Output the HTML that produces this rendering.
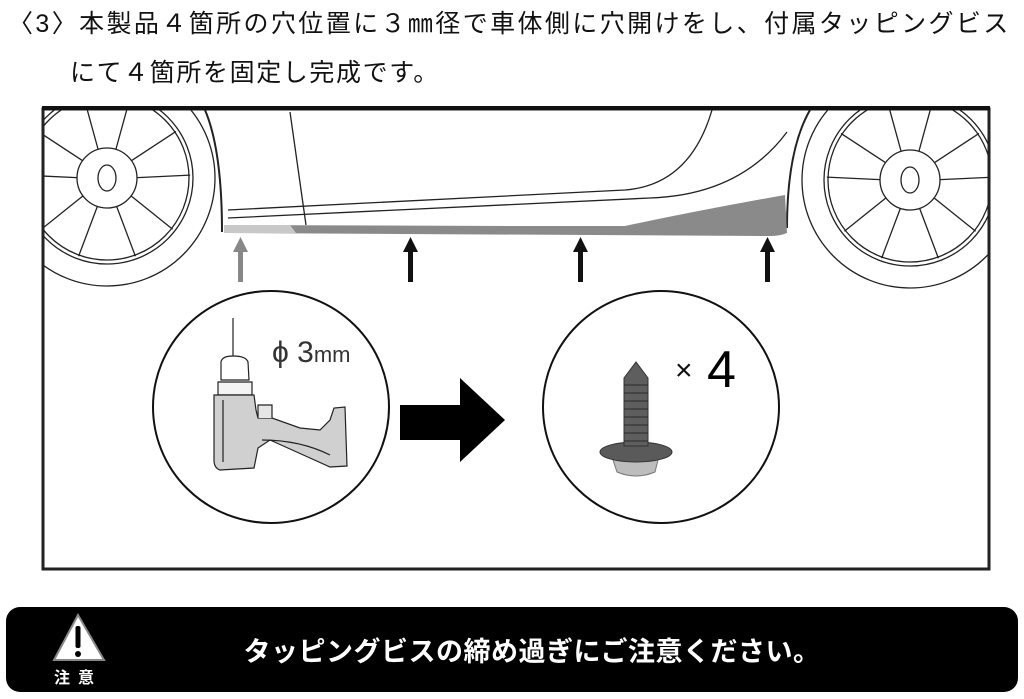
<!DOCTYPE html>
<html><head><meta charset="utf-8"><style>
body{margin:0;width:1024px;height:699px;background:#fff;overflow:hidden;position:relative;font-family:"Liberation Sans","Noto Sans CJK JP",sans-serif}
.t{position:absolute;font-size:25px;color:#111;white-space:nowrap;letter-spacing:1.6px}
</style></head><body>
<div class="t" style="left:8px;top:4px;letter-spacing:2.4px">〈3〉本製品４箇所の穴位置に３㎜径で車体側に穴開けをし、付属タッピングビス</div>
<div class="t" style="left:70px;top:53px">にて４箇所を固定し完成です。</div>
<svg width="1024" height="699" style="position:absolute;left:0;top:0" xmlns="http://www.w3.org/2000/svg">
<defs><clipPath id="fr"><rect x="43" y="109" width="946" height="460"/></clipPath></defs>
<g clip-path="url(#fr)" fill="none" stroke="#222" stroke-width="1.3">
 <circle cx="107" cy="178" r="108"/>
 <circle cx="107" cy="178" r="86"/>
 <circle cx="107" cy="178" r="82"/>
 <circle cx="107" cy="178" r="30"/>
 <ellipse cx="107" cy="178" rx="9" ry="13"/>
 <g id="sp"><path d="M98 149 L84 98 M116 149 L130 98"/></g>
 <use href="#sp" transform="rotate(72 107 178)"/><use href="#sp" transform="rotate(144 107 178)"/><use href="#sp" transform="rotate(216 107 178)"/><use href="#sp" transform="rotate(288 107 178)"/>
 <circle cx="910" cy="180" r="108"/>
 <circle cx="910" cy="180" r="86"/>
 <circle cx="910" cy="180" r="82"/>
 <circle cx="910" cy="180" r="30"/>
 <ellipse cx="910" cy="180" rx="9" ry="13"/>
 <g id="sp2"><path d="M901 151 L887 100 M919 151 L933 100"/></g>
 <use href="#sp2" transform="rotate(72 910 180)"/><use href="#sp2" transform="rotate(144 910 180)"/><use href="#sp2" transform="rotate(216 910 180)"/><use href="#sp2" transform="rotate(288 910 180)"/>
 <path d="M205 110 Q222 150 222 232" stroke-width="2"/>
 <path d="M810 110 Q787 150 787 228" stroke-width="2"/>
 <path d="M290 112 L306 225"/>
 <path d="M712 110 Q690 185 625 190 L228 210"/>
 <path d="M787 132 Q740 195 650 198 L228 218"/>
</g>
<rect x="43" y="109" width="946" height="460" fill="none" stroke="#222" stroke-width="3"/>
<line x1="42" y1="108" x2="990" y2="108" stroke="#111" stroke-width="4"/>
<path d="M224 225 L520 226 L625 226 Q700 210 785 195 L787 233 Q780 236 770 236 L224 233 Z" fill="#8a8a8a"/>
<path d="M224 225 L290 225 L296 233 L224 233Z" fill="#c8c8c8"/>
<g fill="#111">
 <g fill="#888"><rect x="238" y="250" width="5" height="32"/><polygon points="233,252 240.5,237 248,252"/></g>
 <rect x="408" y="250" width="5" height="32"/><polygon points="403,252 410.5,237 418,252"/>
 <rect x="578" y="250" width="5" height="32"/><polygon points="573,252 580.5,237 588,252"/>
 <rect x="765" y="250" width="5" height="32"/><polygon points="760,252 767.5,237 775,252"/>
</g>
<ellipse cx="271" cy="407" rx="118" ry="116" fill="none" stroke="#111" stroke-width="2"/>
<ellipse cx="661" cy="407" rx="118" ry="116" fill="none" stroke="#111" stroke-width="2"/>
<g stroke="#222" stroke-width="1.2">
 <line x1="233" y1="318" x2="233" y2="356"/>
 <path d="M221 380 L221 362 Q222 356 233 356 Q246 356 248 362 L249 380Z" fill="#fff"/>
 <path d="M218 382 L252 382 L252 395 L218 395Z" fill="#f4f4f4"/>
 <path d="M214 395 L254 395 L256 410 L258 418 L272 418 L300 428 L320 430 L330 420 L334 408 L345 407 L347 466 L330 467 L310 458 L270 440 L258 448 L254 468 L220 470 Q214 468 214 460Z" fill="#d0d0d0"/>
 <path d="M258 418 L258 405 L272 405 L272 418" fill="#e6e6e6"/>
 <path d="M262 440 Q300 440 330 455" fill="none"/>
 <line x1="223" y1="400" x2="223" y2="462"/>
</g>
<text x="272" y="362" font-family="Liberation Sans,sans-serif" font-size="30" fill="#333">ϕ 3<tspan font-size="22">mm</tspan></text>
<path d="M400 405 L460 405 L460 378 L505 420 L460 462 L460 440 L400 440Z" fill="#000"/>
<path d="M613 460 L658 460 L655 472 Q636 480 617 472Z" fill="#bdbdbd" stroke="#777"/>
<ellipse cx="636" cy="452" rx="36" ry="10" fill="#5a5a5a" stroke="#333"/>
<path d="M624 446 L624 378 L636 362 L648 378 L648 446Z" fill="#5e5e5e" stroke="#333"/>
<g stroke="#2a2a2a"><line x1="624" y1="385" x2="648" y2="385"/><line x1="624" y1="393" x2="648" y2="393"/><line x1="624" y1="401" x2="648" y2="401"/><line x1="624" y1="409" x2="648" y2="409"/><line x1="624" y1="417" x2="648" y2="417"/><line x1="624" y1="425" x2="648" y2="425"/><line x1="624" y1="433" x2="648" y2="433"/><line x1="624" y1="441" x2="648" y2="441"/></g>
<text x="675" y="380" font-family="Liberation Sans,sans-serif" font-size="30" fill="#111">×</text>
<text x="707" y="387" font-family="Liberation Sans,sans-serif" font-size="52" fill="#000">4</text>
<rect x="6" y="607" width="1012" height="85" rx="14" fill="#000"/>
<polygon points="78,615 54,660 104,660" fill="#fff" stroke="#888" stroke-width="2"/>
<rect x="75.5" y="626" width="5" height="22" rx="2" fill="#000"/>
<circle cx="78" cy="654" r="3" fill="#000"/>
<text x="54" y="683" font-family="Liberation Sans,Noto Sans CJK JP,sans-serif" font-size="16" font-weight="bold" fill="#fff" letter-spacing="8">注意</text>
<text x="532" y="661" text-anchor="middle" font-family="Liberation Sans,Noto Sans CJK JP,sans-serif" font-size="27" font-weight="bold" fill="#fff" letter-spacing="0.5">タッピングビスの締め過ぎにご注意ください。</text>
</svg>
</body></html>
